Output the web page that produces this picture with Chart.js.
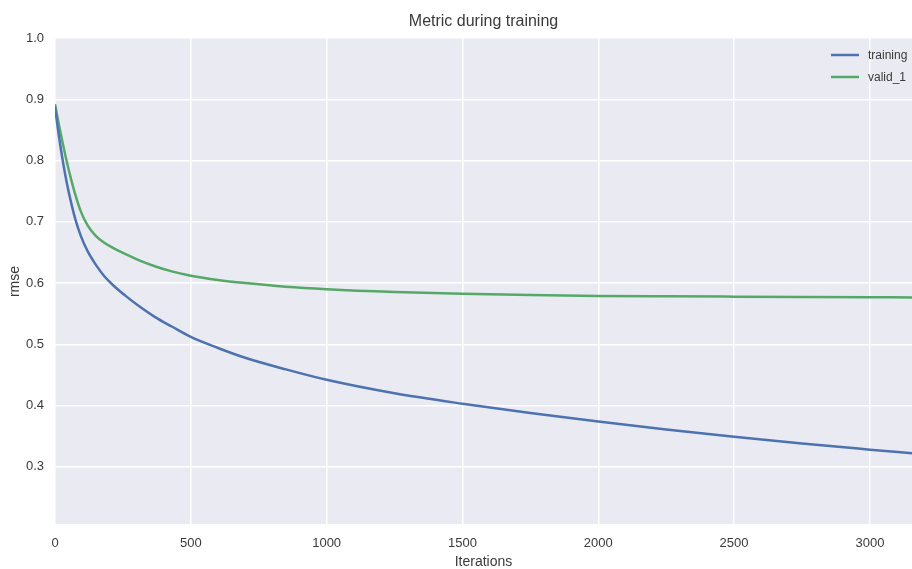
<!DOCTYPE html>
<html>
<head>
<meta charset="utf-8">
<script src="https://cdn.jsdelivr.net/npm/chart.js@4"></script>
<style>
  html, body { margin: 0; padding: 0; background: #fff; }
  #wrap { width: 912px; height: 569px; position: relative; }
</style>
</head>
<body>
<div id="wrap"><canvas id="metricChart"></canvas></div>
<script>
// values
const iterations = [0, 15, 30, 45, 60, 75, 95, 120, 150, 180, 215, 260, 310, 370, 430, 500, 600, 700, 850, 1000, 1250, 1500, 1750, 2000, 2250, 2500, 2750, 3000, 3155];
const training = [0.888, 0.838, 0.796, 0.760, 0.730, 0.704, 0.677, 0.652, 0.630, 0.612, 0.596, 0.579, 0.562, 0.544, 0.529, 0.512, 0.494, 0.478, 0.459, 0.442, 0.420, 0.403, 0.388, 0.374, 0.361, 0.349, 0.338, 0.328, 0.322];
const valid1 = [0.892, 0.857, 0.825, 0.795, 0.768, 0.744, 0.717, 0.694, 0.677, 0.666, 0.657, 0.647, 0.637, 0.627, 0.619, 0.612, 0.605, 0.600, 0.594, 0.590, 0.5855, 0.5825, 0.5805, 0.579, 0.5783, 0.5778, 0.5773, 0.5768, 0.5765];
const xTicks = [0, 500, 1000, 1500, 2000, 2500, 3000];
const yTicks = [0.3, 0.4, 0.5, 0.6, 0.7, 0.8, 0.9, 1.0];
const seriesNames = ['training', 'valid_1'];
const seriesColors = ['#4C72B0', '#55A868'];

const FONT = "'Liberation Sans', Arial, sans-serif";
const TEXT = '#3a3a3a';

const toPoints = vals => vals.map((v, i) => ({ x: iterations[i], y: v }));

// seaborn-like background behind the plot
const bgPlugin = {
  id: 'plotBg',
  beforeDraw(chart) {
    const { ctx, chartArea: a } = chart;
    ctx.save();
    ctx.fillStyle = '#EAEAF2';
    ctx.fillRect(a.left, a.top, a.right - a.left, a.bottom - a.top);
    ctx.restore();
  }
};

// legend inside the axes, top right, no frame
const legendPlugin = {
  id: 'innerLegend',
  afterDraw(chart) {
    const { ctx } = chart;
    ctx.save();
    ctx.font = '12px ' + FONT;
    ctx.textBaseline = 'middle';
    ctx.fillStyle = TEXT;
    seriesNames.forEach((name, i) => {
      const y = 55 + i * 22;
      ctx.strokeStyle = seriesColors[i];
      ctx.lineWidth = 2.5;
      ctx.beginPath();
      ctx.moveTo(831, y);
      ctx.lineTo(859, y);
      ctx.stroke();
      ctx.fillText(name, 868, y + 1);
    });
    ctx.restore();
  }
};

new Chart(document.getElementById('metricChart').getContext('2d'), {
  type: 'line',
  data: {
    datasets: [
      { label: seriesNames[0], data: toPoints(training), borderColor: seriesColors[0] },
      { label: seriesNames[1], data: toPoints(valid1), borderColor: seriesColors[1] }
    ]
  },
  options: {
    responsive: true,
    maintainAspectRatio: false,
    animation: false,
    layout: { padding: 0 },
    elements: {
      point: { radius: 0 },
      line: { borderWidth: 2.5, cubicInterpolationMode: 'monotone', fill: false }
    },
    plugins: {
      legend: { display: false },
      tooltip: { enabled: false },
      title: {
        display: true,
        text: 'Metric during training',
        fullSize: false,
        color: TEXT,
        font: { family: FONT, size: 16, weight: 'normal', lineHeight: 1.2 },
        padding: { top: 12, bottom: 6.8 }
      }
    },
    scales: {
      x: {
        type: 'linear',
        min: 0,
        max: 3155,
        afterBuildTicks: s => { s.ticks = xTicks.map(v => ({ value: v })); },
        afterFit: s => { s.height = 44; },
        grid: { color: '#ffffff', lineWidth: 1.5, drawTicks: false },
        border: { display: true, color: '#ffffff', width: 1.5 },
        ticks: { color: TEXT, padding: 11, font: { family: FONT, size: 13 }, maxRotation: 0, callback: v => String(v) },
        title: {
          display: true, text: 'Iterations', color: TEXT,
          font: { family: FONT, size: 14, lineHeight: 1 }, padding: 0
        }
      },
      y: {
        type: 'linear',
        min: 0.205,
        max: 1.0,
        afterBuildTicks: s => { s.ticks = yTicks.map(v => ({ value: v })); },
        afterFit: s => { s.width = 55; },
        grid: { color: '#ffffff', lineWidth: 1.5, drawTicks: false },
        border: { display: false },
        ticks: { color: TEXT, padding: 11, font: { family: FONT, size: 13 }, callback: v => v.toFixed(1) },
        title: {
          display: true, text: 'rmse', color: TEXT,
          font: { family: FONT, size: 14, lineHeight: 1 }, padding: { top: 8 }
        }
      }
    }
  },
  plugins: [bgPlugin, legendPlugin]
});
</script>
</body>
</html>
